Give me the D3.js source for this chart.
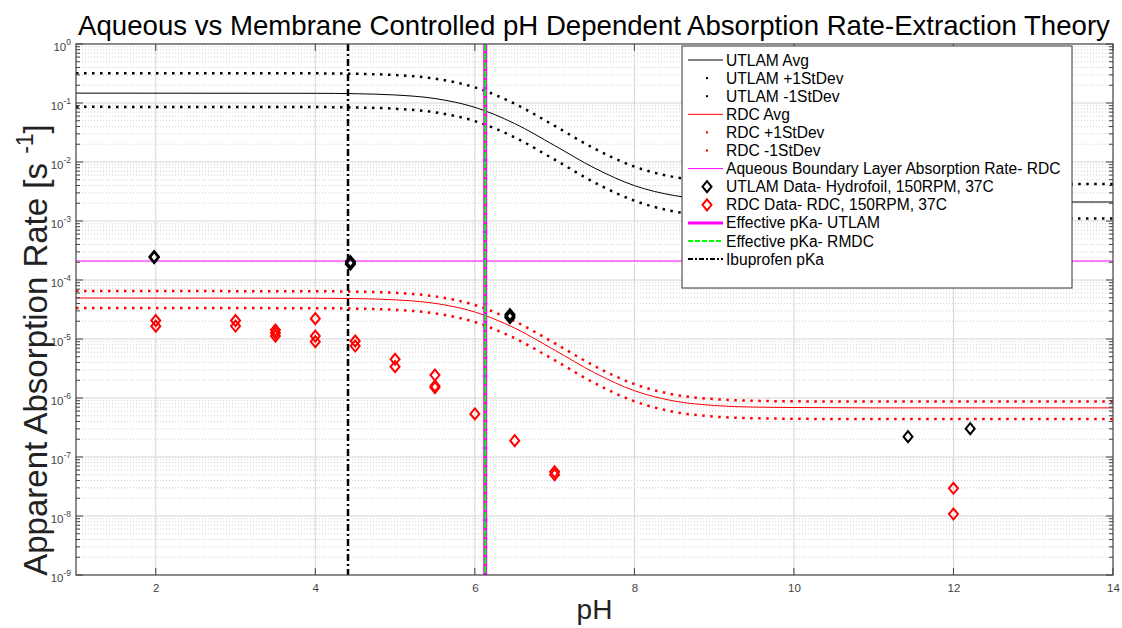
<!DOCTYPE html>
<html>
<head>
<meta charset="utf-8">
<script src="https://cdn.jsdelivr.net/npm/d3@7"></script>
<style>
  body { margin: 0; background: #fff; }
  svg { display: block; font-family: "Liberation Sans", Arial, sans-serif; }
</style>
</head>
<body>
<div id="chart"></div>
<script>
// pH grid the model curves were read at
const curvePH = [1, 4, 4.5, 5, 5.5, 6, 6.5, 7, 7.5, 8, 8.5, 9, 9.5, 10, 11, 12, 14]

const utlamAvg = [0.147, 0.146, 0.1436, 0.1368, 0.119, 0.0845, 0.0448, 0.0190, 0.0079, 0.00398, 0.0027, 0.00229, 0.00216, 0.00212, 0.0021, 0.0021, 0.0021]
const utlamPlus = [0.32, 0.318, 0.3126, 0.2977, 0.2589, 0.1838, 0.0972, 0.0410, 0.01688, 0.00835, 0.00555, 0.00465, 0.00437, 0.00428, 0.00424, 0.00424, 0.00424]
const utlamMinus = [0.086, 0.0854, 0.0840, 0.0800, 0.0696, 0.0494, 0.0261, 0.01098, 0.0045, 0.00221, 0.00145, 0.00121, 0.00114, 0.00111, 0.0011, 0.0011, 0.0011]

const rdcAvg = [4.95e-5, 4.91e-5, 4.84e-5, 4.61e-5, 4.02e-5, 2.87e-5, 1.53e-5, 6.48e-6, 2.68e-6, 1.33e-6, 8.87e-7, 7.46e-7, 7.01e-7, 6.9e-7, 6.8e-7, 6.8e-7, 6.8e-7]
const rdcPlus = [6.5e-5, 6.45e-5, 6.35e-5, 6.06e-5, 5.28e-5, 3.77e-5, 2.0e-5, 8.49e-6, 3.49e-6, 1.72e-6, 1.14e-6, 9.57e-7, 8.98e-7, 8.79e-7, 8.7e-7, 8.7e-7, 8.7e-7]
const rdcMinus = [3.35e-5, 3.33e-5, 3.27e-5, 3.12e-5, 2.72e-5, 1.94e-5, 1.03e-5, 4.37e-6, 1.79e-6, 8.8e-7, 5.8e-7, 4.84e-7, 4.54e-7, 4.45e-7, 4.4e-7, 4.4e-7, 4.4e-7]

const aqueousRate = 2.1e-4

// measured data
const utlamPH = [1.98, 1.98, 1.98, 4.44, 4.44, 4.44, 6.44, 6.44, 6.44, 11.43, 12.21]
const utlamRate = [2.4e-4, 2.5e-4, 2.45e-4, 2.05e-4, 1.85e-4, 1.95e-4, 2.6e-5, 2.3e-5, 2.45e-5, 2.21e-7, 3.02e-7]

const rdcPH = [2, 2, 3, 3, 3.5, 3.5, 3.5, 4, 4, 4, 4.5, 4.5, 5, 5, 5.5, 5.5, 5.5, 6, 6.5, 7, 7, 12, 12]
const rdcRate = [2.05e-5, 1.65e-5, 2.05e-5, 1.66e-5, 1.42e-5, 1.27e-5, 1.12e-5, 2.21e-5, 1.12e-5, 9.0e-6, 9.25e-6, 7.6e-6, 4.53e-6, 3.4e-6, 2.45e-6, 1.5e-6, 1.6e-6, 5.36e-7, 1.89e-7, 5.6e-8, 5.0e-8, 2.95e-8, 1.08e-8]

const pKaUtlam = 6.13
const pKaRmdc = 6.13
const pKaIbuprofen = 4.41

const xTicks = [2, 4, 6, 8, 10, 12, 14]
const yDecades = [-9, -8, -7, -6, -5, -4, -3, -2, -1, 0]

const legendLabels = [
    'UTLAM Avg', 'UTLAM +1StDev', 'UTLAM -1StDev',
    'RDC Avg', 'RDC +1StDev', 'RDC -1StDev',
    'Aqueous Boundary Layer Absorption Rate- RDC',
    'UTLAM Data- Hydrofoil, 150RPM, 37C',
    'RDC Data- RDC, 150RPM, 37C',
    'Effective pKa- UTLAM', 'Effective pKa- RMDC', 'Ibuprofen pKa'
]

const width = 1122, height = 628
const plot = { left: 76, right: 1113, top: 44, bottom: 575 }

const svg = d3.select('#chart').append('svg')
    .attr('width', width)
    .attr('height', height)

const x = d3.scaleLinear().domain([1, 14]).range([plot.left, plot.right])
const y = d3.scaleLog().domain([1e-9, 1]).range([plot.bottom, plot.top])

svg.append('defs').append('clipPath').attr('id', 'clip')
    .append('rect')
    .attr('x', plot.left).attr('y', plot.top)
    .attr('width', plot.right - plot.left).attr('height', plot.bottom - plot.top)

// minor grid + major grid
const minorVals = []
yDecades.slice(0, -1).forEach(function (e) {
    for (let k = 2; k <= 9; k++) minorVals.push(k * Math.pow(10, e))
})
const grid = svg.append('g')
grid.selectAll('.minor').data(minorVals).join('line')
    .attr('x1', plot.left).attr('x2', plot.right)
    .attr('y1', d => y(d)).attr('y2', d => y(d))
    .attr('stroke', '#cfcfcf').attr('stroke-width', 1).attr('stroke-dasharray', '1,2')
grid.selectAll('.majorY').data(yDecades.slice(1, -1)).join('line')
    .attr('x1', plot.left).attr('x2', plot.right)
    .attr('y1', d => y(Math.pow(10, d))).attr('y2', d => y(Math.pow(10, d)))
    .attr('stroke', '#d6d6d6').attr('stroke-width', 1)
grid.selectAll('.majorX').data(xTicks.slice(0, -1)).join('line')
    .attr('x1', d => x(d)).attr('x2', d => x(d))
    .attr('y1', plot.top).attr('y2', plot.bottom)
    .attr('stroke', '#d6d6d6').attr('stroke-width', 1)

const g = svg.append('g').attr('clip-path', 'url(#clip)')

function drawCurve(values, color, dotted) {
    const data = curvePH.map((p, i) => ({ pH: p, v: values[i] }))
    const path = g.append('path')
        .datum(data)
        .attr('fill', 'none')
        .attr('stroke', color)
        .attr('d', d3.line()
            .curve(d3.curveMonotoneX)
            .x(d => x(d.pH))
            .y(d => y(d.v)))
    if (dotted) {
        path.attr('stroke-width', 2.5).attr('stroke-dasharray', '2.5,5.5')
    } else {
        path.attr('stroke-width', 1)
    }
}

drawCurve(utlamAvg, '#000', false)
drawCurve(utlamPlus, '#000', true)
drawCurve(utlamMinus, '#000', true)
drawCurve(rdcAvg, '#ff0000', false)
drawCurve(rdcPlus, '#ff0000', true)
drawCurve(rdcMinus, '#ff0000', true)

g.append('line')
    .attr('x1', plot.left).attr('x2', plot.right)
    .attr('y1', y(aqueousRate)).attr('y2', y(aqueousRate))
    .attr('stroke', '#ff00ff').attr('stroke-width', 1.2)

const diamond = 'M0,-5.5L4.5,0L0,5.5L-4.5,0Z'

g.selectAll('.utlamPt').data(utlamPH).join('path')
    .attr('d', diamond)
    .attr('transform', (d, i) => 'translate(' + x(d) + ',' + y(utlamRate[i]) + ')')
    .attr('fill', 'none').attr('stroke', '#000').attr('stroke-width', 2)

g.selectAll('.rdcPt').data(rdcPH).join('path')
    .attr('d', diamond)
    .attr('transform', (d, i) => 'translate(' + x(d) + ',' + y(rdcRate[i]) + ')')
    .attr('fill', 'none').attr('stroke', '#ff0000').attr('stroke-width', 2)

// vertical pKa lines
g.append('line')
    .attr('x1', x(pKaUtlam)).attr('x2', x(pKaUtlam))
    .attr('y1', plot.top).attr('y2', plot.bottom)
    .attr('stroke', '#ff00ff').attr('stroke-width', 4)
g.append('line')
    .attr('x1', x(pKaRmdc)).attr('x2', x(pKaRmdc))
    .attr('y1', plot.top).attr('y2', plot.bottom)
    .attr('stroke', '#00ff00').attr('stroke-width', 2).attr('stroke-dasharray', '7,2')
g.append('line')
    .attr('x1', x(pKaIbuprofen)).attr('x2', x(pKaIbuprofen))
    .attr('y1', plot.top).attr('y2', plot.bottom)
    .attr('stroke', '#000').attr('stroke-width', 2.5).attr('stroke-dasharray', '7,3,2,3')

// axes
const axisColor = '#404040'
const xAxis = svg.append('g')
    .attr('transform', 'translate(0,' + plot.bottom + ')')
    .call(d3.axisBottom(x).tickValues(xTicks).tickSize(0).tickPadding(9))
xAxis.select('.domain').remove()
xAxis.selectAll('text').attr('font-size', 11.5).attr('fill', '#444')
    .attr('font-family', '"Liberation Sans", Arial, sans-serif')

const yAxis = svg.append('g')
    .attr('transform', 'translate(' + plot.left + ',0)')
    .call(d3.axisLeft(y).tickValues(yDecades.map(e => Math.pow(10, e))).tickSize(0).tickPadding(5).tickFormat(''))
yAxis.select('.domain').remove()
yAxis.selectAll('.tick text').each(function (d) {
    const t = d3.select(this)
    t.attr('font-size', 11.5).attr('fill', '#444')
        .attr('font-family', '"Liberation Sans", Arial, sans-serif')
        .attr('dy', '0.55em')
    t.append('tspan').text('10')
    t.append('tspan').attr('font-size', 8.5).attr('dy', '-0.7em').text(Math.round(Math.log10(d)))
})

// ticks (inside) on all four sides
const ticks = svg.append('g').attr('stroke', axisColor).attr('stroke-width', 1)
yDecades.forEach(function (e) {
    const yy = y(Math.pow(10, e))
    ticks.append('line').attr('x1', plot.left).attr('x2', plot.left + 7).attr('y1', yy).attr('y2', yy)
    ticks.append('line').attr('x1', plot.right).attr('x2', plot.right - 7).attr('y1', yy).attr('y2', yy)
})
minorVals.forEach(function (v) {
    const yy = y(v)
    ticks.append('line').attr('x1', plot.left).attr('x2', plot.left + 4).attr('y1', yy).attr('y2', yy)
    ticks.append('line').attr('x1', plot.right).attr('x2', plot.right - 4).attr('y1', yy).attr('y2', yy)
})
xTicks.forEach(function (t) {
    ticks.append('line').attr('x1', x(t)).attr('x2', x(t)).attr('y1', plot.bottom).attr('y2', plot.bottom - 7)
    ticks.append('line').attr('x1', x(t)).attr('x2', x(t)).attr('y1', plot.top).attr('y2', plot.top + 7)
})
svg.append('rect')
    .attr('x', plot.left).attr('y', plot.top)
    .attr('width', plot.right - plot.left).attr('height', plot.bottom - plot.top)
    .attr('fill', 'none').attr('stroke', axisColor).attr('stroke-width', 1.2)

// titles
svg.append('text')
    .attr('x', 594).attr('y', 35)
    .attr('text-anchor', 'middle').attr('font-size', 27.6).attr('fill', '#000')
    .text('Aqueous vs Membrane Controlled pH Dependent Absorption Rate-Extraction Theory')

svg.append('text')
    .attr('x', (plot.left + plot.right) / 2).attr('y', 619)
    .attr('text-anchor', 'middle').attr('font-size', 28).attr('fill', '#222')
    .text('pH')

const yl = svg.append('text')
    .attr('transform', 'translate(47,350) rotate(-90)')
    .attr('text-anchor', 'middle').attr('font-size', 33).attr('fill', '#222')
yl.append('tspan').text('Apparent Absorption Rate [s ')
yl.append('tspan').attr('font-size', 23).attr('dy', -14).text('-1')
yl.append('tspan').attr('dy', 14).text(']')

// legend
const lg = svg.append('g')
lg.append('rect')
    .attr('x', 682).attr('y', 46).attr('width', 390).attr('height', 242)
    .attr('fill', '#fff').attr('stroke', '#333').attr('stroke-width', 1)

const rowY = i => 60 + i * 18.1
const sx0 = 688, sx1 = 723, mx = 707

legendLabels.forEach(function (label, i) {
    const yy = rowY(i)
    lg.append('text')
        .attr('x', 726).attr('y', yy + 5.5)
        .attr('font-size', 15.6).attr('fill', '#000')
        .text(label)
})
// samples
lg.append('line').attr('x1', sx0).attr('x2', sx1).attr('y1', rowY(0)).attr('y2', rowY(0)).attr('stroke', '#000')
lg.append('rect').attr('x', mx - 1).attr('y', rowY(1) - 1).attr('width', 2).attr('height', 2).attr('fill', '#000')
lg.append('rect').attr('x', mx - 1).attr('y', rowY(2) - 1).attr('width', 2).attr('height', 2).attr('fill', '#000')
lg.append('line').attr('x1', sx0).attr('x2', sx1).attr('y1', rowY(3)).attr('y2', rowY(3)).attr('stroke', '#ff0000')
lg.append('rect').attr('x', mx - 1).attr('y', rowY(4) - 1).attr('width', 2).attr('height', 2).attr('fill', '#ff0000')
lg.append('rect').attr('x', mx - 1).attr('y', rowY(5) - 1).attr('width', 2).attr('height', 2).attr('fill', '#ff0000')
lg.append('line').attr('x1', sx0).attr('x2', sx1).attr('y1', rowY(6)).attr('y2', rowY(6)).attr('stroke', '#ff00ff')
lg.append('path').attr('d', diamond).attr('transform', 'translate(' + mx + ',' + rowY(7) + ')')
    .attr('fill', 'none').attr('stroke', '#000').attr('stroke-width', 2)
lg.append('path').attr('d', diamond).attr('transform', 'translate(' + mx + ',' + rowY(8) + ')')
    .attr('fill', 'none').attr('stroke', '#ff0000').attr('stroke-width', 2)
lg.append('line').attr('x1', sx0).attr('x2', sx1).attr('y1', rowY(9)).attr('y2', rowY(9))
    .attr('stroke', '#ff00ff').attr('stroke-width', 3)
lg.append('line').attr('x1', sx0).attr('x2', sx1).attr('y1', rowY(10)).attr('y2', rowY(10))
    .attr('stroke', '#00ff00').attr('stroke-width', 2).attr('stroke-dasharray', '5,2')
lg.append('line').attr('x1', sx0).attr('x2', sx1).attr('y1', rowY(11)).attr('y2', rowY(11))
    .attr('stroke', '#000').attr('stroke-width', 2).attr('stroke-dasharray', '5,2,2,2')
</script>
</body>
</html>
